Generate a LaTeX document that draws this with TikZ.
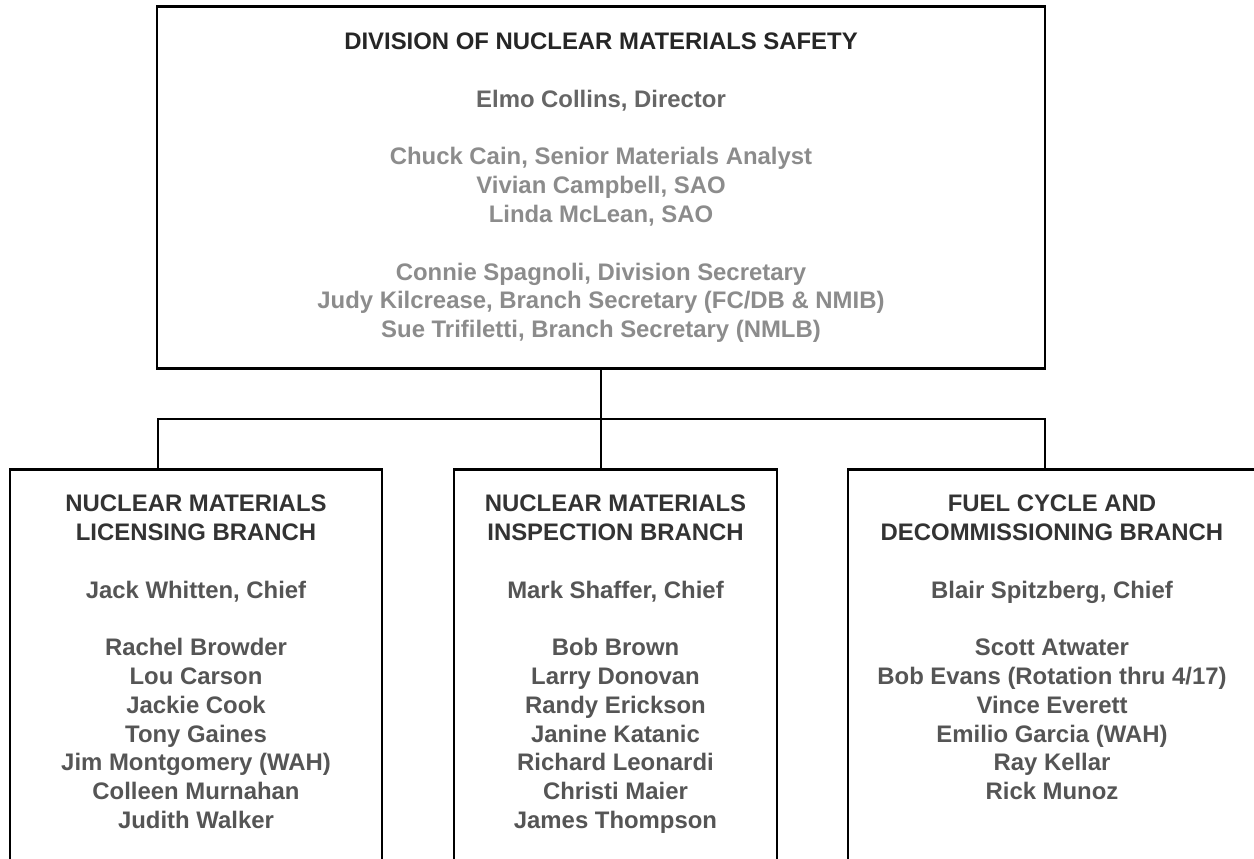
\documentclass[tikz,border=0pt]{standalone}
\usepackage{fontspec}
\setmainfont{Liberation Sans}
\usetikzlibrary{positioning}
\def\wBox{1.6pt}
\definecolor{cInk}{HTML}{000000}
\definecolor{cHead}{HTML}{262626}
\definecolor{cDir}{HTML}{666666}
\definecolor{cStaff}{HTML}{8C8C8C}
\definecolor{cBrHead}{HTML}{333333}
\definecolor{cBrText}{HTML}{555555}
\tikzset{
  box/.style={draw=cInk, line width=\wBox, inner sep=0pt, fill=white},
  divtext/.style={align=center, inner sep=0pt, text=cStaff, font=\bfseries\fontsize{13.6}{16.4}\selectfont},
  brtext/.style={align=center, inner sep=0pt, text=cBrText, font=\bfseries\fontsize{13.6}{16.4}\selectfont},
  link/.style={draw=cInk, line width=\wBox},
}
\newcommand{\brhd}[1]{{\color{cBrHead}#1}}

\begin{document}
\begin{tikzpicture}[x=1cm, y=1cm]
% page is 1254x859 px at 0.02cm per px; boxes run off the bottom and right edge
\useasboundingbox (0,0) rectangle (25.08,-17.18);
\clip (0,0) rectangle (25.08,-17.18);

% division office
\node[box, minimum width=17.76cm, minimum height=7.24cm, anchor=north] (div) at (12.02,-0.10) {};
\node[divtext, below=0.55cm of div.north] (divtxt) {%
  {\color{cHead}DIVISION OF NUCLEAR MATERIALS SAFETY}\\[16.4pt]
  {\color{cDir}Elmo Collins, Director}\\[16.4pt]
  Chuck Cain, Senior Materials Analyst\\
  Vivian Campbell, SAO\\
  Linda McLean, SAO\\[16.4pt]
  Connie Spagnoli, Division Secretary\\
  Judy Kilcrease, Branch Secretary (FC/DB \& NMIB)\\
  Sue Trifiletti, Branch Secretary (NMLB)};

% branches
\node[box, minimum width=7.44cm, minimum height=9cm, anchor=north] (nmlb) at (3.92,-9.36) {};
\node[box, minimum width=6.46cm, minimum height=9cm, anchor=north] (nmib) at (12.31,-9.36) {};
\node[box, minimum width=8.16cm, minimum height=9cm, anchor=north] (fcdb) at (21.04,-9.36) {};

\node[brtext, below=0.53cm of nmlb.north] (nmlbtxt) {%
  \brhd{NUCLEAR MATERIALS}\\
  \brhd{LICENSING BRANCH}\\[16.4pt]
  Jack Whitten, Chief\\[16.4pt]
  Rachel Browder\\
  Lou Carson\\
  Jackie Cook\\
  Tony Gaines\\
  Jim Montgomery (WAH)\\
  Colleen Murnahan\\
  Judith Walker};
\node[brtext, below=0.53cm of nmib.north] (nmibtxt) {%
  \brhd{NUCLEAR MATERIALS}\\
  \brhd{INSPECTION BRANCH}\\[16.4pt]
  Mark Shaffer, Chief\\[16.4pt]
  Bob Brown\\
  Larry Donovan\\
  Randy Erickson\\
  Janine Katanic\\
  Richard Leonardi\\
  Christi Maier\\
  James Thompson};
\node[brtext, below=0.53cm of fcdb.north] (fcdbtxt) {%
  \brhd{FUEL CYCLE AND}\\
  \brhd{DECOMMISSIONING BRANCH}\\[16.4pt]
  Blair Spitzberg, Chief\\[16.4pt]
  Scott Atwater\\
  Bob Evans (Rotation thru 4/17)\\
  Vince Everett\\
  Emilio Garcia (WAH)\\
  Ray Kellar\\
  Rick Munoz};

% reporting lines
\coordinate (busL) at (3.16,-8.38);
\coordinate (busR) at (20.90,-8.38);
\draw[link] (div.south) -- (div.south |- nmib.north);
\draw[link] (nmlb.north -| busL) -- (busL) -- (busR) -- (fcdb.north -| busR);
\end{tikzpicture}
\end{document}
